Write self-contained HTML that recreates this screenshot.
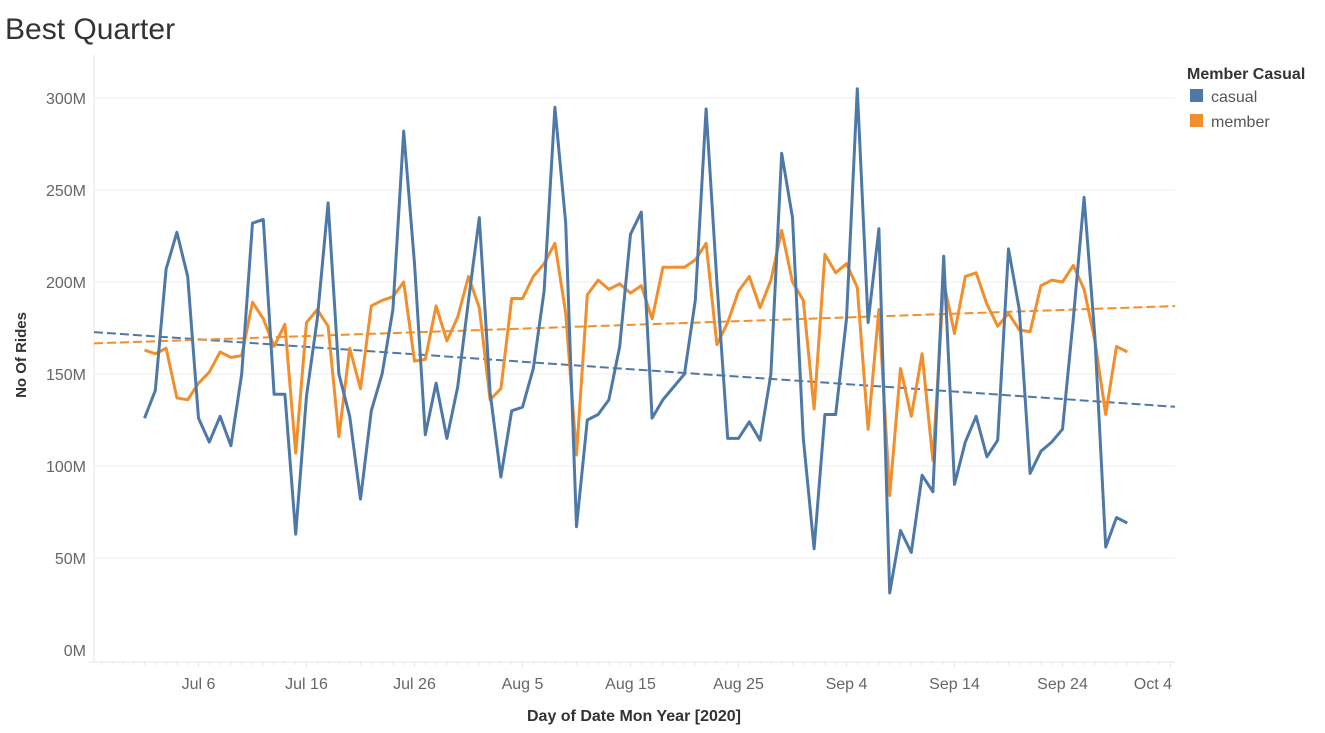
<!DOCTYPE html>
<html><head><meta charset="utf-8">
<style>
body{margin:0;background:#fff;font-family:"Liberation Sans",sans-serif;}
#wrap{position:relative;width:1325px;height:733px;overflow:hidden;}
</style></head>
<body><div id="wrap">
<svg id="chart" width="1325" height="733">
<text x="5" y="39" font-size="30" fill="#333" font-weight="300">Best Quarter</text>
<g id="grid"></g><g id="axes"></g><g id="trends"></g><g id="series"></g>
<text transform="translate(26,355) rotate(-90)" text-anchor="middle" font-size="15" font-weight="bold" fill="#333">No Of Rides</text>
<text x="634" y="721" text-anchor="middle" font-size="16" font-weight="bold" fill="#333">Day of Date Mon Year [2020]</text>
<g>
<text x="1187" y="79" font-size="16" font-weight="bold" fill="#333">Member Casual</text>
<rect x="1190" y="89" width="13" height="13" fill="#4e79a7"/>
<text x="1211" y="102" font-size="16" fill="#555">casual</text>
<rect x="1190" y="114" width="13" height="13" fill="#f28e2b"/>
<text x="1211" y="127" font-size="16" fill="#555">member</text>
</g>
</svg></div>
<script>
const casual=[126,141,207,227,203,126,113,127,111,150,232,234,139,139,63,138,180,243,150,127,82,130,150,185,282,210,117,145,115,143,190,235,140,94,130,132,153,195,295,232,67,125,128,136,165,226,238,126,136,143,150,190,294,200,115,115,124,114,150,270,235,115,55,128,128,180,305,178,229,31,65,53,95,86,214,90,113,127,105,114,218,185,96,108,113,120,180,246,170,56,72,69];
const member=[163,161,164,137,136,145,151,162,159,160,189,180,165,177,107,178,185,176,116,164,142,187,190,192,200,157,158,187,168,181,203,186,136,142,191,191,203,210,221,183,106,193,201,196,199,194,198,180,208,208,208,212,221,166,178,195,203,186,201,228,200,190,131,215,205,210,197,120,185,84,153,127,161,103,200,172,203,205,188,176,183,174,173,198,201,200,209,196,168,128,165,162];
const yTicks=[0,50,100,150,200,250,300];
const yTickLabels=["0M","50M","100M","150M","200M","250M","300M"];
const xTickDays=[5,15,25,35,45,55,65,75,85,95];
const xTickLabels=["Jul 6","Jul 16","Jul 26","Aug 5","Aug 15","Aug 25","Sep 4","Sep 14","Sep 24","Oct 4"];
const NS="http://www.w3.org/2000/svg";
const L=94,R=1175,T=55,B=662;
const x=d=>144.5+d*10.8;
const y=v=>650-v*1.84;
function mk(tag,attrs,parent){const e=document.createElementNS(NS,tag);for(const k in attrs)e.setAttribute(k,attrs[k]);document.getElementById(parent).appendChild(e);return e;}
yTicks.forEach((t,i)=>{
 const g=mk('line',{x1:L,x2:R,y1:y(t),y2:y(t),stroke:t===0?'#fff':'#ececec','stroke-width':1},'grid');
 
 
 const tx=mk('text',{x:86,y:y(t)+6,'text-anchor':'end','font-size':16,fill:'#666'},'axes');
 tx.textContent=yTickLabels[i];
 
 
});
let a=mk('line',{x1:L,x2:L,y1:T,y2:B,stroke:'#e6e6e6'},'axes');


a=mk('line',{x1:89,x2:R,y1:B,y2:B,stroke:'#e6e6e6'},'axes');


for(let d=-4;d<=95;d++){const m=mk('line',{x1:x(d),x2:x(d),y1:B,y2:B+(xTickDays.includes(d)?5:3),stroke:'#e6e6e6'},'axes');
 
 }
xTickDays.forEach((d,i)=>{
 const last=i===xTickDays.length-1;
 const tx=mk('text',{x:last?1172:x(d),y:689,'text-anchor':last?'end':'middle','font-size':16,fill:'#666'},'axes');
 tx.textContent=xTickLabels[i];
 
 
});
function trend(vals,color,name){
 const n=vals.length;let sx=0,sy=0,sxx=0,sxy=0;
 vals.forEach((v,i)=>{sx+=i;sy+=v;sxx+=i*i;sxy+=i*v;});
 const b=(n*sxy-sx*sy)/(n*sxx-sx*sx),a0=(sy-b*sx)/n;
 const d0=(L-144.5)/10.8,d1=(R-144.5)/10.8;
 const ln=mk('line',{x1:L,y1:y(a0+b*d0),x2:R,y2:y(a0+b*d1),stroke:color,'stroke-width':2,'stroke-dasharray':'9,4'},'trends');
 
 
}
trend(casual,'#4e79a7','trend-line-casual');
trend(member,'#f28e2b','trend-line-member');
function series(vals,color,name){
 const p=mk('polyline',{points:vals.map((v,i)=>x(i)+','+y(v)).join(' '),fill:'none',stroke:color,'stroke-width':3,'stroke-linejoin':'round'},'series');
 
 
}
series(member,'#f28e2b','line-member');
series(casual,'#4e79a7','line-casual');
</script>
</body></html>
